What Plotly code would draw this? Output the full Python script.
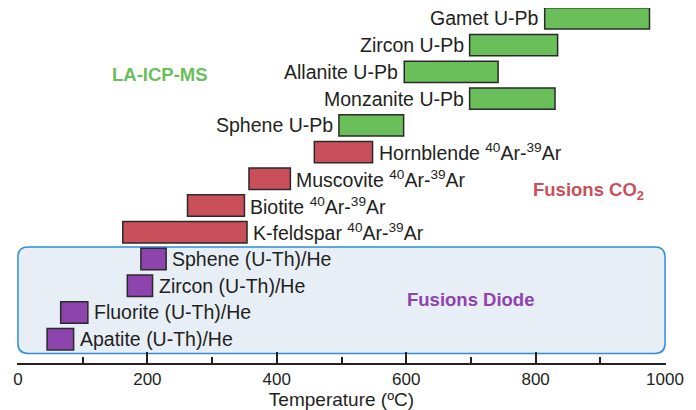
import plotly.graph_objects as go

# methods, bottom (row 0) to top (row 12)
NAMES = [
    "Apatite (U-Th)/He",
    "Fluorite (U-Th)/He",
    "Zircon (U-Th)/He",
    "Sphene (U-Th)/He",
    "K-feldspar <sup>40</sup>Ar-<sup>39</sup>Ar",
    "Biotite <sup>40</sup>Ar-<sup>39</sup>Ar",
    "Muscovite <sup>40</sup>Ar-<sup>39</sup>Ar",
    "Hornblende <sup>40</sup>Ar-<sup>39</sup>Ar",
    "Sphene U-Pb",
    "Monzanite U-Pb",
    "Allanite U-Pb",
    "Zircon U-Pb",
    "Gamet U-Pb",
]
T_START = [45, 66, 169, 190, 162, 262, 357, 458, 496, 698, 597, 698, 814]
T_END = [86, 108, 208, 229, 354, 350, 421, 548, 596, 830, 742, 834, 976]
GROUP = ["he"] * 4 + ["ar"] * 4 + ["pb"] * 5

COLORS = {"pb": "#6abf5a", "ar": "#c9505a", "he": "#8e44ad"}
LABEL_SIDE = {"pb": "left", "ar": "right", "he": "right"}

FONT = "Liberation Sans, Arial, sans-serif"
TEXT = "#231f20"

rows = list(range(len(NAMES)))

fig = go.Figure()

# the rounded "Fusions Diode" box
bx0, bx1, by0, by1 = 0, 1000, -0.53, 3.45
rx, ry = 15.5, 0.37
box_path = (
    f"M {bx0 + rx},{by0} L {bx1 - rx},{by0} Q {bx1},{by0} {bx1},{by0 + ry} "
    f"L {bx1},{by1 - ry} Q {bx1},{by1} {bx1 - rx},{by1} "
    f"L {bx0 + rx},{by1} Q {bx0},{by1} {bx0},{by1 - ry} "
    f"L {bx0},{by0 + ry} Q {bx0},{by0} {bx0 + rx},{by0} Z"
)
fig.add_shape(type="path", path=box_path, xref="x", yref="y", layer="below",
              fillcolor="#e7eef6", line=dict(color="#2f8fd6", width=1.5))

for g in ["he", "ar", "pb"]:
    idx = [i for i in rows if GROUP[i] == g]
    fig.add_trace(go.Bar(
        y=[rows[i] for i in idx],
        x=[T_END[i] - T_START[i] for i in idx],
        base=[T_START[i] for i in idx],
        orientation="h",
        width=0.8,
        marker=dict(color=COLORS[g], line=dict(color="#2a2a2a", width=1.5)),
        cliponaxis=False,
        hoverinfo="skip",
        showlegend=False,
    ))

for i in rows:
    side = LABEL_SIDE[GROUP[i]]
    if side == "left":
        fig.add_annotation(x=T_START[i], y=rows[i], text=NAMES[i], showarrow=False,
                           xanchor="right", xshift=-4,
                           font=dict(family=FONT, size=19.5, color=TEXT))
    else:
        fig.add_annotation(x=T_END[i], y=rows[i], text=NAMES[i], showarrow=False,
                           xanchor="left", xshift=4,
                           font=dict(family=FONT, size=19.5, color=TEXT))

# group titles
fig.add_annotation(x=219, y=9.92, text="<b>LA-ICP-MS</b>", showarrow=False,
                   font=dict(family=FONT, size=18.5, color=COLORS["pb"]))
fig.add_annotation(x=882, y=5.56, text="<b>Fusions CO<sub>2</sub></b>", showarrow=False,
                   font=dict(family=FONT, size=18.5, color=COLORS["ar"]))
fig.add_annotation(x=699, y=1.47, text="<b>Fusions Diode</b>", showarrow=False,
                   font=dict(family=FONT, size=18.5, color=COLORS["he"]))

# page body adds an 8px offset, so the figure is a bit smaller than the window
fig.update_layout(
    width=688, height=402,
    margin=dict(l=9, r=30, t=0, b=47),
    paper_bgcolor="white", plot_bgcolor="white",
    font=dict(family=FONT, color=TEXT),
    barmode="overlay",
    xaxis=dict(
        range=[-1.5, 1001.5], tickvals=[0, 200, 400, 600, 800, 1000],
        ticks="inside", ticklen=11, tickwidth=1.5, tickcolor="#222",
        showline=True, linecolor="#222", linewidth=1.5,
        showgrid=False, zeroline=False,
        tickfont=dict(size=17, color=TEXT),
        minor=dict(tickvals=[100, 300, 500, 700, 900], ticks="inside",
                   ticklen=6, tickwidth=1.5, tickcolor="#222"),
        title=dict(text="Temperature (ºC)", font=dict(size=19, color=TEXT), standoff=0),
    ),
    yaxis=dict(range=[-0.89, 12.39], visible=False),
)

fig.write_html("out.html")
